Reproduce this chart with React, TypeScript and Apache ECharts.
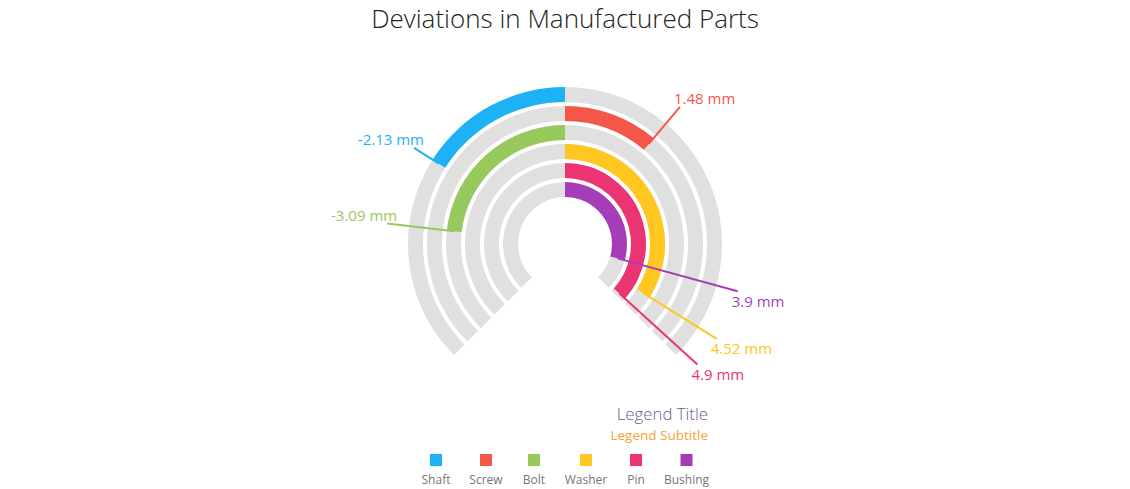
import React, { useEffect, useRef } from 'react';
import * as echarts from 'echarts';

// ---- data ----
const categories = ['Shaft', 'Screw', 'Bolt', 'Washer', 'Pin', 'Bushing'];
const deviations = [-2.13, 1.48, -3.09, 4.52, 4.9, 3.9];
const partColors = ['#1db2f5', '#f5564a', '#97c95c', '#ffc720', '#eb3573', '#a63db8'];
const scaleMin = -5;
const scaleMax = 5;
const unit = 'mm';
const chartTitle = 'Deviations in Manufactured Parts';
const legendTitle = 'Legend Title';
const legendSubtitle = 'Legend Subtitle';

// ---- layout / style ----
const FONT = '"Segoe UI", "Open Sans", sans-serif';
const CX = 565;
const CY = 244;
const R_INNER = 45;
const R_OUTER = 159;
const LEADER_R = 179;
const TRACK = '#e0e0e0';
const legendCenters = [436, 486, 534, 586, 636, 686.5];
const LEGEND_RIGHT = 708;

export default function App() {
  const ref = useRef<HTMLDivElement>(null);

  useEffect(() => {
    if (!ref.current) return;
    const chart = echarts.init(ref.current, undefined, { renderer: 'svg' });

    const renderLabel = (params: any, api: any) => {
      const idx = params.dataIndex;
      const color = partColors[idx];
      const p = api.coord([api.value(0), api.value(1)]);
      const cs = params.coordSys || {};
      const cx = cs.cx != null ? cs.cx : CX;
      const cy = cs.cy != null ? cs.cy : CY;
      const dx = p[0] - cx;
      const dy = p[1] - cy;
      const len = Math.hypot(dx, dy) || 1;
      const ux = dx / len;
      const uy = dy / len;
      const ex = cx + ux * LEADER_R;
      const ey = cy + uy * LEADER_R;
      const right = ux >= 0;
      const upper = uy < 0;
      return {
        type: 'group',
        children: [
          {
            type: 'line',
            shape: { x1: p[0], y1: p[1], x2: ex, y2: ey },
            style: { stroke: color, lineWidth: 2 },
          },
          {
            type: 'text',
            style: {
              x: ex + (right ? -6 : 10),
              y: upper ? ey - 1 : ey + 2,
              text: `${deviations[idx]} ${unit}`,
              fill: color,
              fontSize: 15,
              fontFamily: FONT,
              align: right ? 'left' : 'right',
              verticalAlign: upper ? 'bottom' : 'top',
            },
          },
        ],
      };
    };

    const legendGraphics: any[] = [
      {
        type: 'text',
        style: {
          x: LEGEND_RIGHT,
          y: 413,
          text: legendTitle,
          align: 'right',
          verticalAlign: 'middle',
          fontSize: 16.8,
          fontWeight: 300,
          fontFamily: FONT,
          fill: '#76598f',
        },
      },
      {
        type: 'text',
        style: {
          x: LEGEND_RIGHT,
          y: 435,
          text: legendSubtitle,
          align: 'right',
          verticalAlign: 'middle',
          fontSize: 13.5,
          fontFamily: FONT,
          fill: '#f5a332',
        },
      },
    ];
    categories.forEach((name, i) => {
      legendGraphics.push({
        type: 'rect',
        shape: { x: legendCenters[i] - 6, y: 454, width: 12, height: 12 },
        style: { fill: partColors[i] },
      });
      legendGraphics.push({
        type: 'text',
        style: {
          x: legendCenters[i],
          y: 479,
          text: name,
          align: 'center',
          verticalAlign: 'middle',
          fontSize: 12,
          fontFamily: FONT,
          fill: '#767676',
        },
      });
    });

    const hidden = {
      axisLine: { show: false },
      axisTick: { show: false },
      axisLabel: { show: false },
      splitLine: { show: false },
    };
    const angleAxisCfg = (polarIndex: number) => ({
      type: 'value',
      polarIndex,
      min: scaleMin,
      max: scaleMax,
      startAngle: 225,
      endAngle: -45,
      clockwise: true,
      ...hidden,
    });
    const radiusAxisCfg = (polarIndex: number) => ({
      type: 'category',
      polarIndex,
      data: categories,
      inverse: true,
      ...hidden,
    });

    chart.setOption({
      animation: false,
      title: {
        text: chartTitle,
        left: 'center',
        top: 0,
        textStyle: { fontFamily: FONT, fontSize: 26, fontWeight: 300, color: '#232323' },
      },
      polar: [
        { center: [CX, CY], radius: [R_INNER, R_OUTER] },
        { center: [CX, CY], radius: [R_INNER, R_OUTER] },
      ],
      angleAxis: [angleAxisCfg(0), angleAxisCfg(1)],
      radiusAxis: [radiusAxisCfg(0), radiusAxisCfg(1)],
      series: [
        {
          type: 'bar',
          coordinateSystem: 'polar',
          polarIndex: 0,
          stack: 'track',
          data: categories.map(() => scaleMin),
          barWidth: 15,
          itemStyle: { color: TRACK },
          silent: true,
        },
        {
          type: 'bar',
          coordinateSystem: 'polar',
          polarIndex: 0,
          stack: 'track',
          data: categories.map(() => scaleMax),
          barWidth: 15,
          itemStyle: { color: TRACK },
          silent: true,
        },
        {
          type: 'bar',
          coordinateSystem: 'polar',
          polarIndex: 1,
          data: deviations.map((v, i) => ({ value: v, itemStyle: { color: partColors[i] } })),
          barWidth: 15,
          z: 3,
        },
        {
          type: 'custom',
          coordinateSystem: 'polar',
          polarIndex: 1,
          data: deviations.map((v, i) => [i, v]),
          renderItem: renderLabel,
          z: 5,
          silent: true,
        },
      ],
      graphic: legendGraphics,
    });

    return () => chart.dispose();
  }, []);

  return (
    <div
      ref={ref}
      style={{ position: 'fixed', left: 0, top: 0, width: 1130, height: 489, background: '#fff' }}
    />
  );
}
